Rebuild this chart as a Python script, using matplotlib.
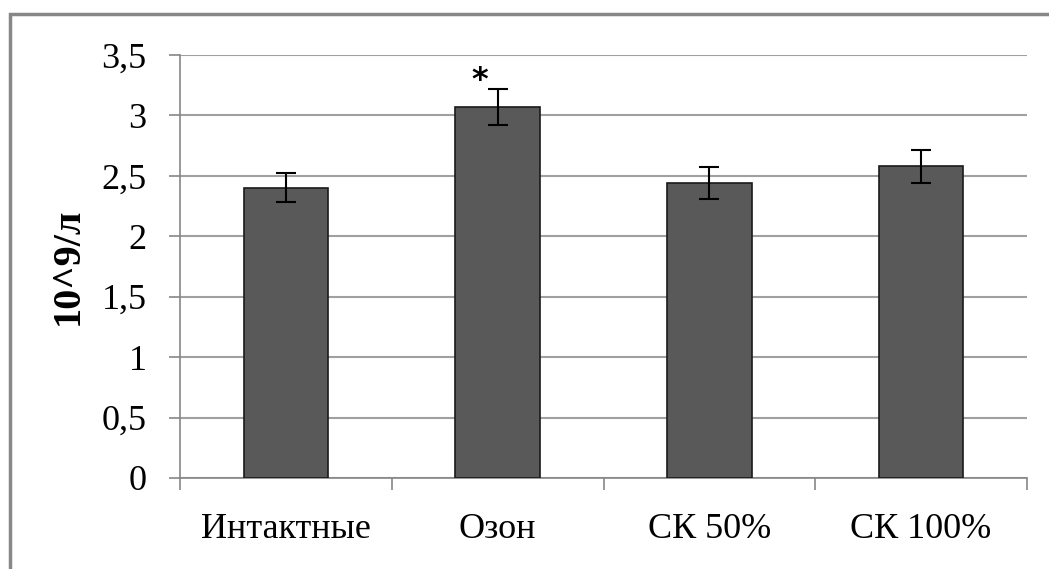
import matplotlib
matplotlib.use("Agg")
import matplotlib.pyplot as plt
from matplotlib.patches import Rectangle
import numpy as np

categories = ["Интактные", "Озон", "СК 50%", "СК 100%"]
values = [2.40, 3.07, 2.44, 2.58]
errors = [0.12, 0.15, 0.13, 0.135]
ytick_vals = [0, 0.5, 1, 1.5, 2, 2.5, 3, 3.5]
ytick_labels = ["0", "0,5", "1", "1,5", "2", "2,5", "3", "3,5"]
ylabel = "10^9/л"
star_index = 1

W, H = 1049, 569
fig = plt.figure(figsize=(W / 100, H / 100), dpi=100)
plt.rcParams['font.family'] = ['Liberation Serif', 'DejaVu Serif']

# outer gray frame
fig.patches.append(Rectangle((10 / W, -0.1), 1.2, (H - 14) / H + 0.1,
                             transform=fig.transFigure, fill=False,
                             edgecolor="#878787", linewidth=2.5, zorder=0))

ax = fig.add_axes([180 / W, 91 / H, (1027 - 180) / W, (478 - 55) / H])
x = np.arange(len(categories))
ax.bar(x, values, width=0.40, color="#595959", edgecolor="#1a1a1a",
       linewidth=1.2, zorder=3)
ax.errorbar(x, values, yerr=errors, fmt="none", ecolor="black",
            elinewidth=1.5, capsize=7, capthick=1.5, zorder=4)

ax.text(star_index - 0.085, values[star_index] + errors[star_index] + 0.065, "*",
        ha="center", va="center", fontsize=23, fontweight="bold",
        family="DejaVu Sans", zorder=5)

ax.set_xlim(-0.5, len(categories) - 0.5)
ax.set_ylim(0, 3.5)
ax.set_yticks(ytick_vals)
ax.set_yticklabels(ytick_labels)
ax.set_xticks(x)
ax.set_xticklabels(categories)
ax.set_xticks(np.arange(-0.5, len(categories), 1.0), minor=True)

ax.tick_params(axis="y", which="major", length=8, width=1.2, color="#868686",
               pad=16, labelsize=26)
ax.tick_params(axis="x", which="major", length=0, pad=25, labelsize=26)
ax.tick_params(axis="x", which="minor", length=8.5, width=1.2, color="#868686",
               direction="out")

ax.grid(axis="y", color="#a0a0a0", linewidth=1.5, zorder=0)
ax.set_axisbelow(True)
for s in ["top", "right"]:
    ax.spines[s].set_visible(False)
for s in ["left", "bottom"]:
    ax.spines[s].set_color("#868686")
    ax.spines[s].set_linewidth(1.2)

ax.set_ylabel(ylabel, fontsize=29, fontweight="bold")
ax.yaxis.set_label_coords(-93 / (1027 - 180), 0.5)

fig.savefig("out.png", dpi=100)
